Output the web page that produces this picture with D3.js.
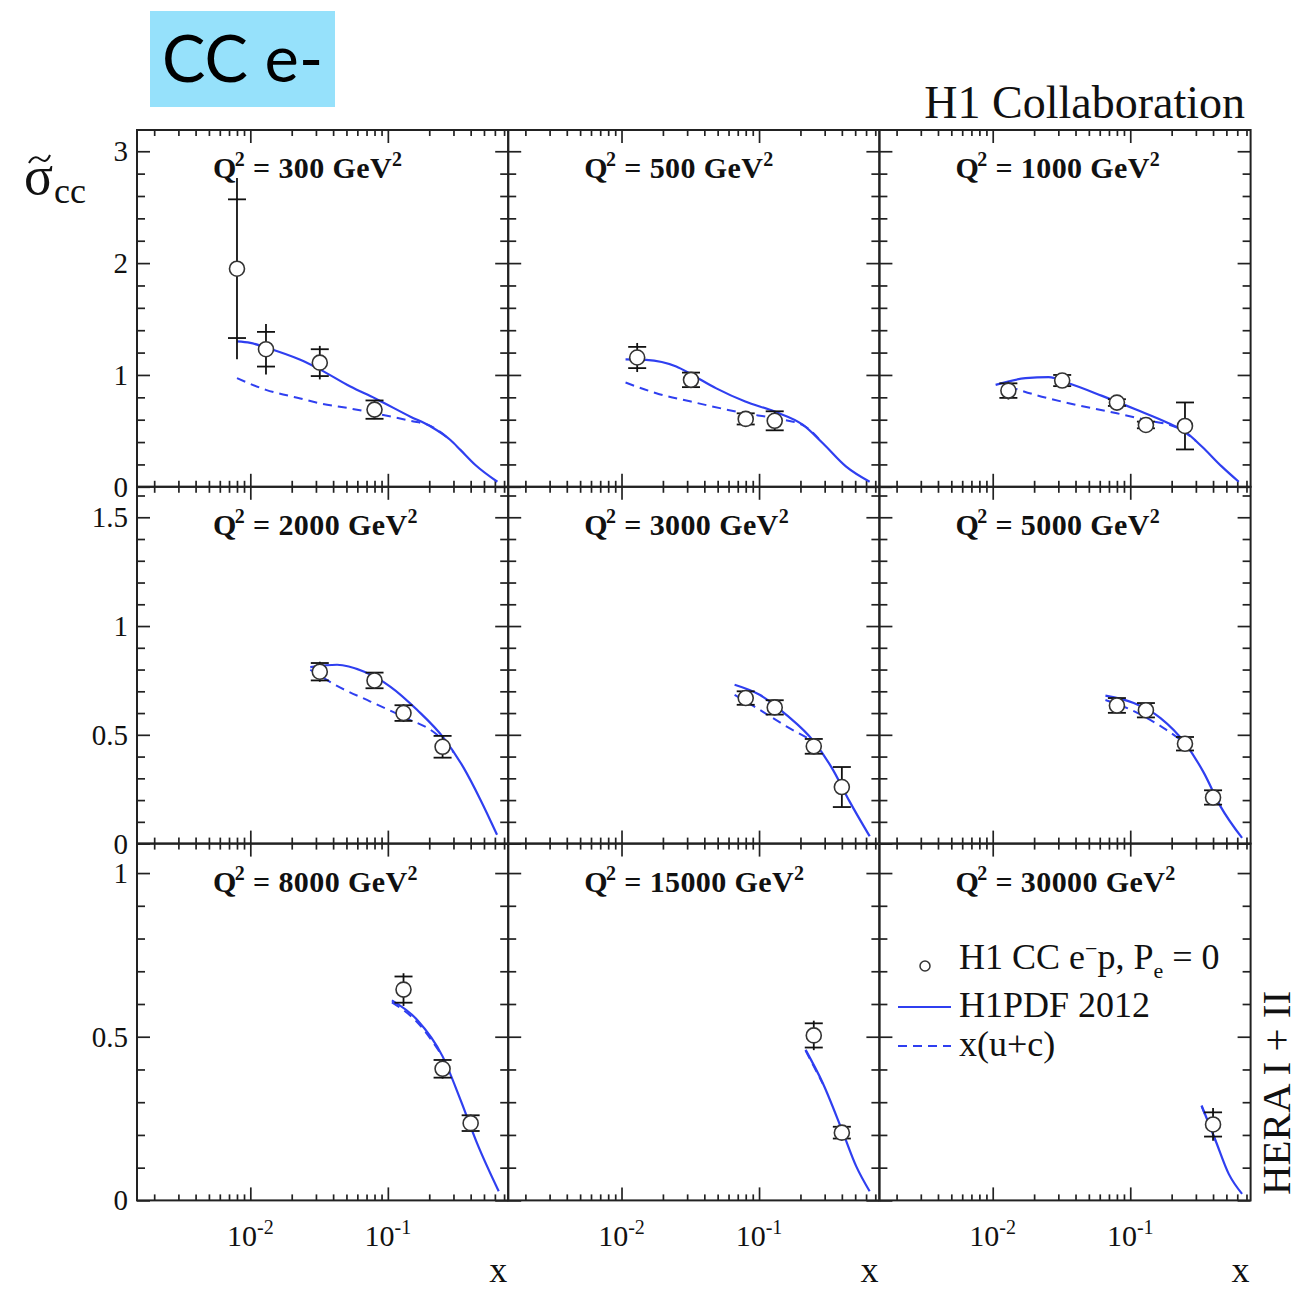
<!DOCTYPE html>
<html>
<head>
<meta charset="utf-8">
<script src="https://cdn.jsdelivr.net/npm/d3@7"></script>
<style>
  html, body { margin: 0; padding: 0; background: #fff; }
  svg { display: block; }
  text { font-family: "Liberation Serif", "DejaVu Serif", serif; fill: #111; }
</style>
</head>
<body>
<svg id="chart" width="1310" height="1292"></svg>
<script>
// ---- values ----
const q2List = [300, 500, 1000, 2000, 3000, 5000, 8000, 15000, 30000];

// measured points: Bjorken x, reduced cross section, statistical and total errors
const pointX = [
  [0.008, 0.013, 0.032, 0.08],
  [0.013, 0.032, 0.08, 0.13],
  [0.013, 0.032, 0.08, 0.13, 0.25],
  [0.032, 0.08, 0.13, 0.25],
  [0.08, 0.13, 0.25, 0.40],
  [0.08, 0.13, 0.25, 0.40],
  [0.13, 0.25, 0.40],
  [0.25, 0.40],
  [0.40]
];
const pointSigma = [
  [1.95, 1.23, 1.11, 0.69],
  [1.156, 0.956, 0.607, 0.59],
  [0.86, 0.95, 0.753, 0.553, 0.544],
  [0.79, 0.75, 0.60, 0.445],
  [0.669, 0.626, 0.447, 0.26],
  [0.635, 0.613, 0.459, 0.212],
  [0.644, 0.402, 0.236],
  [0.504, 0.207],
  [0.232]
];
const statErr = [
  [0.62, 0.155, 0.12, 0.082],
  [0.095, 0.065, 0.05, 0.085],
  [0.065, 0.05, 0.03, 0.03, 0.21],
  [0.04, 0.036, 0.036, 0.05],
  [0.031, 0.033, 0.034, 0.092],
  [0.034, 0.033, 0.031, 0.033],
  [0.04, 0.027, 0.024],
  [0.037, 0.018],
  [0.037]
];
const totalErr = [
  [0.81, 0.225, 0.15, 0.085],
  [0.13, 0.065, 0.05, 0.085],
  [0.08, 0.05, 0.03, 0.03, 0.21],
  [0.046, 0.036, 0.04, 0.052],
  [0.031, 0.033, 0.036, 0.092],
  [0.034, 0.033, 0.031, 0.033],
  [0.05, 0.03, 0.026],
  [0.045, 0.018],
  [0.05]
];

// H1PDF 2012 prediction, [x, sigma] pairs
const h1pdfCurve = [
  [[0.008,1.30],[0.01,1.287],[0.013,1.245],[0.0231,1.135],[0.032,1.05],[0.0534,0.896],[0.081,0.79],[0.146,0.627],[0.204,0.54],[0.285,0.418],[0.337,0.33],[0.433,0.195],[0.626,0.045]],
  [[0.0107,1.14],[0.0151,1.135],[0.025,1.075],[0.032,1.007],[0.0489,0.88],[0.0794,0.762],[0.13,0.672],[0.209,0.553],[0.291,0.389],[0.43,0.18],[0.637,0.045]],
  [[0.0105,0.911],[0.0173,0.971],[0.0255,0.98],[0.0357,0.926],[0.0624,0.813],[0.109,0.693],[0.19,0.568],[0.25,0.493],[0.333,0.358],[0.464,0.18],[0.615,0.045]],
  [[0.0273,0.811],[0.0427,0.822],[0.0667,0.791],[0.104,0.722],[0.163,0.615],[0.255,0.485],[0.356,0.348],[0.471,0.202],[0.622,0.041]],
  [[0.0664,0.73],[0.101,0.684],[0.158,0.592],[0.25,0.47],[0.344,0.34],[0.455,0.194],[0.637,0.034]],
  [[0.066,0.68],[0.106,0.646],[0.166,0.577],[0.25,0.462],[0.343,0.325],[0.453,0.171],[0.65,0.026]],
  [[0.107,0.611],[0.163,0.552],[0.25,0.44],[0.337,0.308],[0.445,0.175],[0.64,0.028]],
  [[0.218,0.46],[0.291,0.358],[0.40,0.216],[0.509,0.104],[0.637,0.028]],
  [[0.33,0.29],[0.417,0.183],[0.52,0.081],[0.65,0.02]]
];

// x(u+c) contribution, [x, sigma] pairs
const xucCurve = [
  [[0.008,0.971],[0.013,0.867],[0.0231,0.79],[0.032,0.747],[0.0534,0.70],[0.081,0.657],[0.146,0.59],[0.204,0.545],[0.285,0.418]],
  [[0.0107,0.932],[0.0179,0.837],[0.032,0.762],[0.0794,0.657],[0.13,0.613],[0.209,0.55],[0.291,0.389]],
  [[0.0131,0.896],[0.0204,0.822],[0.0357,0.747],[0.08,0.657],[0.129,0.598],[0.224,0.523],[0.30,0.41]],
  [[0.0273,0.799],[0.0427,0.725],[0.0746,0.653],[0.13,0.582],[0.228,0.50],[0.30,0.42]],
  [[0.0664,0.684],[0.101,0.615],[0.158,0.539],[0.25,0.47]],
  [[0.066,0.66],[0.095,0.623],[0.175,0.531],[0.25,0.462]],
  [[0.107,0.605],[0.163,0.545],[0.25,0.44]],
  [[0.218,0.458],[0.291,0.356]],
  [[0.33,0.288],[0.417,0.182]]
];

// axis settings per row
const xDomain = [0.0015, 0.75];
const xMajorTicks = [0.01, 0.1];
const xLabelTicks = [["10", "-2"], ["10", "-1"]];
const rowYMax = [3.19, 1.64, 1.09];
const rowMajorTicks = [[0, 1, 2, 3], [0, 0.5, 1, 1.5], [0, 0.5, 1]];
const rowMinorStep = [0.2, 0.1, 0.1];

// ---- layout ----
const gridLeft = 137, gridTop = 130, panelW = 371.2, panelH = 356.8;
const blue = "#2f3ff0";
const svg = d3.select("#chart");

const x = d3.scaleLog().domain(xDomain).range([0, panelW]);
const xMinorTicks = [];
[0.001, 0.01, 0.1].forEach(d => {
  for (let k = 2; k <= 9; k++) {
    const v = +(k * d).toPrecision(3);
    if (v >= xDomain[0] && v <= xDomain[1]) xMinorTicks.push(v);
  }
});

// header box
svg.append("rect").attr("x", 150).attr("y", 11).attr("width", 185).attr("height", 96)
  .attr("fill", "#96e1fb");
svg.append("text").attr("x", 162).attr("y", 82)
  .style("font-family", "Lato, 'Open Sans', sans-serif").style("font-size", "65px").style("fill", "#000")
  .text("CC e-");

svg.append("text").attr("x", 1245).attr("y", 118).attr("text-anchor", "end")
  .style("font-size", "46px").text("H1 Collaboration");

// y title: sigma with a tilde accent (drawn as a stroke) and subscript cc
svg.append("text").attr("x", 24).attr("y", 194).style("font-size", "54px").text("σ");
svg.append("path")
  .attr("d", "M29,163 C32,157 36,156 40,159 S47,162 50,155")
  .attr("fill", "none").attr("stroke", "#111").attr("stroke-width", 2);
svg.append("text").attr("x", 54).attr("y", 203).style("font-size", "36px").text("cc");

function styleAxis(g) {
  g.select(".domain").remove();
  g.selectAll(".tick line").attr("stroke", "#222").attr("stroke-width", 1.7);
  g.selectAll(".tick text").remove();
}

q2List.forEach((q2, i) => {
  const row = Math.floor(i / 3), col = i % 3;
  const ox = gridLeft + col * panelW, oy = gridTop + row * panelH;
  const g = svg.append("g").attr("transform", `translate(${ox},${oy})`);
  const yMax = rowYMax[row];
  const y = d3.scaleLinear().domain([0, yMax]).range([panelH, 0]);
  const yMajor = rowMajorTicks[row];
  const yMinor = d3.range(0, yMax, rowMinorStep[row]).map(v => +v.toFixed(2))
    .filter(v => !yMajor.some(m => Math.abs(m - v) < 1e-6));

  // inward ticks on all four sides
  g.append("g").attr("transform", `translate(0,${panelH})`)
    .call(d3.axisBottom(x).tickValues(xMajorTicks).tickSize(-13).tickSizeOuter(0)).call(styleAxis);
  g.append("g").attr("transform", `translate(0,${panelH})`)
    .call(d3.axisBottom(x).tickValues(xMinorTicks).tickSize(-6).tickSizeOuter(0)).call(styleAxis);
  g.append("g")
    .call(d3.axisTop(x).tickValues(xMajorTicks).tickSize(-13).tickSizeOuter(0)).call(styleAxis);
  g.append("g")
    .call(d3.axisTop(x).tickValues(xMinorTicks).tickSize(-6).tickSizeOuter(0)).call(styleAxis);
  g.append("g")
    .call(d3.axisLeft(y).tickValues(yMajor).tickSize(-13).tickSizeOuter(0)).call(styleAxis);
  g.append("g")
    .call(d3.axisLeft(y).tickValues(yMinor).tickSize(-8).tickSizeOuter(0)).call(styleAxis);
  g.append("g").attr("transform", `translate(${panelW},0)`)
    .call(d3.axisRight(y).tickValues(yMajor).tickSize(-13).tickSizeOuter(0)).call(styleAxis);
  g.append("g").attr("transform", `translate(${panelW},0)`)
    .call(d3.axisRight(y).tickValues(yMinor).tickSize(-8).tickSizeOuter(0)).call(styleAxis);

  // frame
  g.append("rect").attr("width", panelW).attr("height", panelH)
    .attr("fill", "none").attr("stroke", "#222").attr("stroke-width", 2);

  // y tick labels on the left column
  if (col === 0) {
    g.selectAll("text.ylab").data(yMajor).join("text").attr("class", "ylab")
      .attr("x", -9).attr("y", d => y(d) + 10).attr("text-anchor", "end")
      .style("font-size", "29px").text(d => d);
  }
  // x tick labels on the bottom row
  if (row === 2) {
    xMajorTicks.forEach((v, k) => {
      const t = g.append("text").attr("x", x(v)).attr("y", panelH + 46)
        .attr("text-anchor", "middle").style("font-size", "30px");
      t.append("tspan").text(xLabelTicks[k][0]);
      t.append("tspan").attr("dy", -12).style("font-size", "20px").text(xLabelTicks[k][1]);
    });
    g.append("text").attr("x", panelW - 1).attr("y", panelH + 82).attr("text-anchor", "end")
      .style("font-size", "36px").text("x");
  }

  // panel title
  const tt = g.append("text").attr("x", 76).attr("y", 48)
    .style("font-size", "30px").style("font-weight", "bold").style("letter-spacing", "0.4px");
  tt.append("tspan").text("Q");
  tt.append("tspan").attr("dx", -2).attr("dy", -12).style("font-size", "20px").text("2");
  tt.append("tspan").attr("dy", 12).text(` = ${q2} GeV`);
  tt.append("tspan").attr("dy", -12).style("font-size", "20px").text("2");

  // curves
  const line = d3.line().x(d => x(d[0])).y(d => y(d[1])).curve(d3.curveMonotoneX);
  g.append("path").datum(xucCurve[i]).attr("d", line)
    .attr("fill", "none").attr("stroke", blue).attr("stroke-width", 2)
    .attr("stroke-dasharray", "9,6");
  g.append("path").datum(h1pdfCurve[i]).attr("d", line)
    .attr("fill", "none").attr("stroke", blue).attr("stroke-width", 2.2);

  // data points with stat (capped) and total error bars
  const pts = pointX[i].map((px, k) => ({
    x: px, s: pointSigma[i][k], st: statErr[i][k], tot: totalErr[i][k]
  }));
  const pg = g.append("g");
  pts.forEach(p => {
    const cx = x(p.x);
    pg.append("line").attr("x1", cx).attr("x2", cx)
      .attr("y1", y(p.s - p.tot)).attr("y2", y(p.s + p.tot))
      .attr("stroke", "#111").attr("stroke-width", 1.8);
    [p.s - p.st, p.s + p.st].forEach(v => {
      pg.append("line").attr("x1", cx - 9).attr("x2", cx + 9)
        .attr("y1", y(v)).attr("y2", y(v))
        .attr("stroke", "#111").attr("stroke-width", 1.8);
    });
  });
  pg.selectAll("circle").data(pts).join("circle")
    .attr("cx", d => x(d.x)).attr("cy", d => y(d.s)).attr("r", 7.5)
    .attr("fill", "#fff").attr("stroke", "#333").attr("stroke-width", 1.6);
});

// legend
const lg = svg.append("g");
lg.append("circle").attr("cx", 925).attr("cy", 966).attr("r", 5)
  .attr("fill", "#fff").attr("stroke", "#333").attr("stroke-width", 1.5);
const l1 = lg.append("text").attr("x", 959).attr("y", 969).style("font-size", "36px");
l1.append("tspan").text("H1 CC e");
l1.append("tspan").attr("dy", -13).style("font-size", "22px").text("−");
l1.append("tspan").attr("dy", 13).text("p, P");
l1.append("tspan").attr("dy", 9).style("font-size", "22px").text("e");
l1.append("tspan").attr("dy", -9).text(" = 0");
lg.append("line").attr("x1", 898).attr("x2", 951).attr("y1", 1007).attr("y2", 1007)
  .attr("stroke", blue).attr("stroke-width", 2.2);
lg.append("text").attr("x", 959).attr("y", 1017).style("font-size", "36px").text("H1PDF 2012");
lg.append("line").attr("x1", 898).attr("x2", 951).attr("y1", 1046).attr("y2", 1046)
  .attr("stroke", blue).attr("stroke-width", 2).attr("stroke-dasharray", "9,6");
lg.append("text").attr("x", 959).attr("y", 1056).style("font-size", "36px").text("x(u+c)");

// rotated run label
svg.append("text").attr("transform", "translate(1290,1093) rotate(-90)")
  .attr("text-anchor", "middle").style("font-size", "41px").text("HERA I + II");
</script>
</body>
</html>
